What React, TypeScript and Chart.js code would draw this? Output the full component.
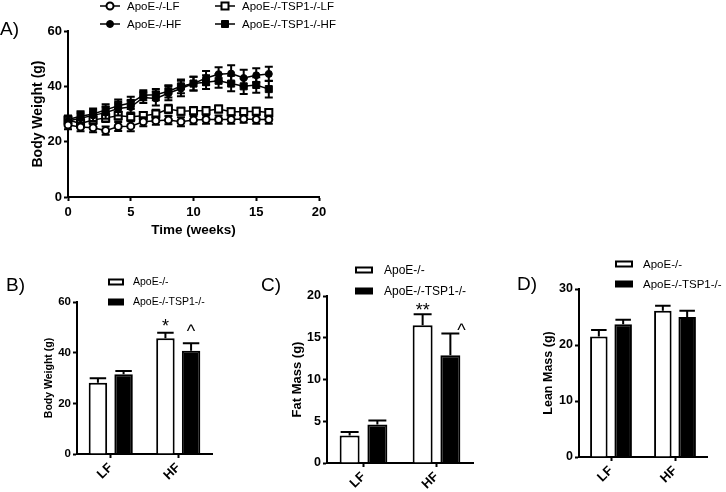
import React, { useEffect, useRef } from "react";
import { Chart, registerables } from "chart.js";

Chart.register(...registerables);

const FONT = "'Liberation Sans', Arial, Helvetica, sans-serif";

// ---------- Panel A: body weight over time ----------
const weeks = [0, 1, 2, 3, 4, 5, 6, 7, 8, 9, 10, 11, 12, 13, 14, 15, 16];
const seriesA = ["ApoE-/-LF", "ApoE-/-HF", "ApoE-/-TSP1-/-LF", "ApoE-/-TSP1-/-HF"];
const apoeLF = [26.0, 25.3, 25.0, 24.0, 25.5, 25.6, 27.2, 27.6, 27.8, 27.2, 27.8, 28.0, 28.0, 28.0, 28.2, 28.0, 28.0];
const apoeLFErr = [1.5, 1.5, 1.6, 1.5, 1.6, 1.8, 1.6, 1.5, 1.5, 1.6, 1.5, 1.5, 1.5, 1.5, 1.4, 1.5, 1.5];
const apoeHF = [27.5, 28.5, 29.5, 30.5, 32.0, 32.5, 36.0, 35.6, 37.5, 39.2, 41.0, 43.0, 44.4, 44.6, 43.0, 44.0, 44.5];
const apoeHFErr = [1.5, 2.0, 2.0, 2.2, 2.5, 2.5, 2.0, 2.5, 2.5, 2.8, 2.5, 2.5, 2.5, 3.0, 3.0, 2.5, 2.6];
const tspLF = [27.8, 26.6, 27.8, 28.6, 29.4, 29.0, 29.4, 30.0, 31.8, 31.0, 31.2, 31.2, 31.8, 30.8, 30.8, 31.0, 30.5];
const tspLFErr = [1.2, 1.5, 1.5, 1.5, 1.5, 1.5, 1.3, 1.5, 1.5, 1.3, 1.3, 1.3, 1.3, 1.3, 1.3, 1.3, 1.3];
const tspHF = [28.0, 29.2, 30.0, 31.5, 33.0, 34.0, 36.8, 37.0, 38.2, 40.0, 41.0, 41.5, 42.0, 41.0, 40.0, 40.5, 39.0];
const tspHFErr = [1.5, 1.8, 2.0, 2.0, 2.2, 2.2, 1.8, 2.0, 2.2, 2.5, 2.5, 2.5, 2.5, 2.8, 2.8, 2.8, 3.0];
const weekMin = 0, weekMax = 20, weekStep = 5;
const bwMin = 0, bwMax = 60, bwStep = 20;

// ---------- Panels B–D: grouped bars ----------
const categories = ["LF", "HF"];
const groups = ["ApoE-/-", "ApoE-/-TSP1-/-"];

const bwApoe = [28.1, 45.7];
const bwApoeErr = [1.8, 2.2];
const bwTsp = [31.5, 40.8];
const bwTspErr = [1.3, 2.9];
const bwApoeMarks = ["", "*"];
const bwTspMarks = ["", "^"];

const fatApoe = [3.3, 16.5];
const fatApoeErr = [0.4, 1.3];
const fatTsp = [4.6, 12.9];
const fatTspErr = [0.5, 2.6];
const fatApoeMarks = ["", "**"];
const fatTspMarks = ["", "^"];
const fatMin = 0, fatMax = 20, fatStep = 5;

const leanApoe = [21.5, 26.1];
const leanApoeErr = [1.2, 0.9];
const leanTsp = [23.7, 25.0];
const leanTspErr = [0.8, 1.1];
const leanMin = 0, leanMax = 30, leanStep = 10;

// ---------- helpers ----------
function axisBase(size: number, extraTicks: any = {}) {
  return {
    border: { display: true, color: "#000", width: 2 },
    grid: {
      display: true,
      drawOnChartArea: false,
      drawTicks: true,
      tickLength: 4,
      tickWidth: 2,
      tickColor: "#000",
      offset: false,
    },
    ticks: {
      color: "#000",
      font: { family: FONT, size, weight: "bold" },
      padding: 2,
      ...extraTicks,
    },
  };
}

function yTitle(text: string, size: number, center: number) {
  return {
    display: true,
    text,
    color: "#000",
    font: { family: FONT, size, weight: "bold" },
    padding: { top: center - (size * 1.2) / 2, bottom: 0 },
  };
}

const lineErrorPlugin = {
  id: "lineErr",
  beforeDatasetDraw(chart: any, args: any) {
    const ds = chart.data.datasets[args.index];
    const errs = ds.errors;
    if (!errs) return;
    const y = chart.scales.y;
    const ctx = chart.ctx;
    ctx.save();
    ctx.strokeStyle = "#000";
    ctx.lineWidth = 2;
    args.meta.data.forEach((pt: any, i: number) => {
      const v = ds.data[i].y;
      const e = errs[i];
      const top = y.getPixelForValue(v + e);
      const bot = y.getPixelForValue(v - e);
      const x = pt.x;
      const cap = 4;
      ctx.beginPath();
      ctx.moveTo(x, top);
      ctx.lineTo(x, bot);
      ctx.moveTo(x - cap, top);
      ctx.lineTo(x + cap, top);
      ctx.moveTo(x - cap, bot);
      ctx.lineTo(x + cap, bot);
      ctx.stroke();
    });
    ctx.restore();
  },
};

function barErrorPlugin(markStyle: any) {
  return {
    id: "barErr",
    afterDatasetsDraw(chart: any) {
      const ctx = chart.ctx;
      const y = chart.scales.y;
      chart.data.datasets.forEach((ds: any, di: number) => {
        const meta = chart.getDatasetMeta(di);
        meta.data.forEach((bar: any, i: number) => {
          const v = ds.data[i];
          const e = ds.errors[i];
          const top = y.getPixelForValue(v + e);
          const base = y.getPixelForValue(v);
          const half = bar.width / 2 - 1;
          ctx.save();
          ctx.strokeStyle = "#000";
          ctx.lineWidth = 2;
          ctx.beginPath();
          ctx.moveTo(bar.x, base);
          ctx.lineTo(bar.x, top);
          ctx.moveTo(bar.x - half, top);
          ctx.lineTo(bar.x + half, top);
          ctx.stroke();
          const mark = ds.marks ? ds.marks[i] : "";
          if (mark) {
            const st = markStyle[di];
            ctx.fillStyle = "#000";
            ctx.font = `${st.size}px ${FONT}`;
            ctx.textAlign = "center";
            ctx.textBaseline = "alphabetic";
            const m = ctx.measureText(mark);
            const asc = m.actualBoundingBoxAscent;
            const desc = m.actualBoundingBoxDescent;
            const centerOffset = (asc - desc) / 2;
            ctx.fillText(mark, bar.x + (st.dx || 0), top - st.gap + centerOffset);
          }
          ctx.restore();
        });
      });
    },
  };
}

function decoPlugin(d: any) {
  return {
    id: "deco",
    afterDraw(chart: any) {
      const ctx = chart.ctx;
      ctx.save();
      ctx.fillStyle = "#000";
      ctx.textAlign = "left";
      ctx.textBaseline = "middle";
      ctx.font = `${d.labelSize}px ${FONT}`;
      ctx.fillText(d.label, d.labelX, d.labelY);
      ctx.font = `${d.legendSize}px ${FONT}`;
      d.items.forEach((it: any) => {
        ctx.strokeStyle = "#000";
        ctx.fillStyle = "#000";
        if (it.kind === "line") {
          ctx.lineWidth = 1.5;
          ctx.beginPath();
          ctx.moveTo(it.x, it.y);
          ctx.lineTo(it.x + 20, it.y);
          ctx.stroke();
          const cx = it.x + 10;
          ctx.lineWidth = it.filled ? 1 : 2;
          ctx.fillStyle = it.filled ? "#000" : "#fff";
          ctx.beginPath();
          if (it.style === "circle") ctx.arc(cx, it.y, 3.5, 0, Math.PI * 2);
          else ctx.rect(cx - 3.5, it.y - 3.5, 7, 7);
          ctx.fill();
          ctx.stroke();
          ctx.fillStyle = "#000";
          ctx.fillText(it.text, it.x + 27, it.y + 0.5);
        } else {
          ctx.lineWidth = 2;
          if (it.filled) {
            ctx.fillRect(it.x, it.y - it.h / 2, it.w, it.h);
          } else {
            ctx.fillStyle = "#fff";
            ctx.fillRect(it.x, it.y - it.h / 2, it.w, it.h);
            ctx.strokeRect(it.x + 1, it.y - it.h / 2 + 1, it.w - 2, it.h - 2);
          }
          ctx.fillStyle = "#000";
          ctx.fillText(it.text, it.textX, it.y + 0.5);
        }
      });
      ctx.restore();
    },
  };
}

// ---------- Panel A config ----------
function makeA() {
  const mk = (label: string, vals: number[], errs: number[], style: string, filled: boolean) => ({
    label,
    data: weeks.map((w, i) => ({ x: w, y: vals[i] })),
    errors: errs,
    borderColor: "#000",
    borderWidth: 1.5,
    pointStyle: style,
    pointRadius: style === "rect" ? 5 : 3.5,
    pointBackgroundColor: filled ? "#000" : "#fff",
    pointBorderColor: "#000",
    pointBorderWidth: filled ? 1 : 2,
    fill: false,
    tension: 0,
    clip: false,
  });
  const datasets = [
    mk(seriesA[0], apoeLF, apoeLFErr, "circle", false),
    mk(seriesA[1], apoeHF, apoeHFErr, "circle", true),
    mk(seriesA[2], tspLF, tspLFErr, "rect", false),
    mk(seriesA[3], tspHF, tspHFErr, "rect", true),
  ];
  return {
    type: "line",
    data: { datasets },
    options: {
      animation: false,
      responsive: false,
      events: [],
      layout: { padding: { left: 0, top: 31, right: 21, bottom: 0 } },
      plugins: { legend: { display: false }, tooltip: { enabled: false } },
      scales: {
        x: {
          type: "linear",
          min: weekMin,
          max: weekMax,
          ...axisBase(13, { stepSize: weekStep, padding: 4 }),
          title: {
            display: true,
            text: "Time (weeks)",
            color: "#000",
            font: { family: FONT, size: 13.5, weight: "bold" },
            padding: { top: 0, bottom: 2 },
          },
          afterFit: (s: any) => {
            s.height = 43;
          },
        },
        y: {
          type: "linear",
          min: bwMin,
          max: bwMax,
          ...axisBase(13, { stepSize: bwStep }),
          title: yTitle("Body Weight (g)", 14, 37.7),
          afterFit: (s: any) => {
            s.width = 68;
          },
        },
      },
    },
    plugins: [
      lineErrorPlugin,
      decoPlugin({
        label: "A)",
        labelX: 0,
        labelY: 30,
        labelSize: 19,
        legendSize: 11.5,
        items: [
          { kind: "line", style: "circle", filled: false, x: 100, y: 6, text: seriesA[0] },
          { kind: "line", style: "rect", filled: false, x: 215, y: 6, text: seriesA[2] },
          { kind: "line", style: "circle", filled: true, x: 100, y: 24, text: seriesA[1] },
          { kind: "line", style: "rect", filled: true, x: 215, y: 24, text: seriesA[3] },
        ],
      }),
    ],
  };
}

// ---------- Bar panels ----------
function makeBar(p: any) {
  return {
    type: "bar",
    data: {
      labels: categories,
      datasets: [
        {
          label: groups[0],
          data: p.a,
          errors: p.aErr,
          marks: p.aMarks,
          backgroundColor: "#fff",
          borderColor: "#000",
          borderWidth: 2,
          categoryPercentage: 0.76,
          barPercentage: 0.72,
        },
        {
          label: groups[1],
          data: p.b,
          errors: p.bErr,
          marks: p.bMarks,
          backgroundColor: "#000",
          borderColor: "#000",
          borderWidth: 2,
          categoryPercentage: 0.76,
          barPercentage: 0.72,
        },
      ],
    },
    options: {
      animation: false,
      responsive: false,
      events: [],
      layout: { padding: { left: 0, top: p.top, right: p.right, bottom: 0 } },
      plugins: { legend: { display: false }, tooltip: { enabled: false } },
      scales: {
        x: {
          type: "category",
          offset: true,
          ...axisBase(13, { minRotation: 45, maxRotation: 45, padding: 2 }),
          afterFit: (s: any) => {
            s.height = p.xh;
          },
        },
        y: {
          type: "linear",
          min: p.min,
          max: p.max,
          ...axisBase(p.tickSize, { stepSize: p.step }),
          title: yTitle(p.title, p.titleSize, p.titleCenter),
          afterFit: (s: any) => {
            s.width = p.yw;
          },
        },
      },
    },
    plugins: [
      barErrorPlugin(p.markStyle),
      decoPlugin({
        label: p.label,
        labelX: p.labelX,
        labelY: p.labelY,
        labelSize: 19,
        legendSize: p.legendSize,
        items: [
          { kind: "box", filled: false, x: p.legX, y: p.legY[0], w: p.legW, h: 7, textX: p.legTextX, text: groups[0] },
          { kind: "box", filled: true, x: p.legX, y: p.legY[1], w: p.legW, h: 7, textX: p.legTextX, text: groups[1] },
        ],
      }),
    ],
  };
}

function makeB() {
  return makeBar({
    a: bwApoe, aErr: bwApoeErr, aMarks: bwApoeMarks,
    b: bwTsp, bErr: bwTspErr, bMarks: bwTspMarks,
    min: bwMin, max: bwMax, step: bwStep,
    title: "Body Weight (g)", titleSize: 10.5, titleCenter: 49,
    tickSize: 11.5, top: 52, right: 28, xh: 38, yw: 77,
    label: "B)", labelX: 6, labelY: 35.5,
    legendSize: 10.5, legX: 108, legW: 16, legY: [32, 52], legTextX: 133,
    markStyle: [{ size: 18, gap: 10, dx: 0 }, { size: 18, gap: 16, dx: 0 }],
  });
}

function makeC() {
  return makeBar({
    a: fatApoe, aErr: fatApoeErr, aMarks: fatApoeMarks,
    b: fatTsp, bErr: fatTspErr, bMarks: fatTspMarks,
    min: fatMin, max: fatMax, step: fatStep,
    title: "Fat Mass (g)", titleSize: 13, titleCenter: 57.5,
    tickSize: 12.5, top: 46, right: 10, xh: 29, yw: 87,
    label: "C)", labelX: 21, labelY: 36,
    legendSize: 12, legX: 115, legW: 18, legY: [20, 41], legTextX: 144,
    markStyle: [{ size: 18, gap: 8, dx: 0 }, { size: 18, gap: 7, dx: 11 }],
  });
}

function makeD() {
  return makeBar({
    a: leanApoe, aErr: leanApoeErr, aMarks: ["", ""],
    b: leanTsp, bErr: leanTspErr, bMarks: ["", ""],
    min: leanMin, max: leanMax, step: leanStep,
    title: "Lean Mass (g)", titleSize: 12.5, titleCenter: 65.3,
    tickSize: 12.5, top: 39, right: 19, xh: 35, yw: 96,
    label: "D)", labelX: 34, labelY: 34.5,
    legendSize: 11.5, legX: 132, legW: 18, legY: [14, 34], legTextX: 160,
    markStyle: [{ size: 18, gap: 10, dx: 0 }, { size: 18, gap: 10, dx: 0 }],
  });
}

function ChartCanvas(props: { make: () => any; left: number; top: number; width: number; height: number }) {
  const ref = useRef<HTMLCanvasElement>(null);
  useEffect(() => {
    const chart = new Chart(ref.current as HTMLCanvasElement, props.make());
    return () => chart.destroy();
  }, []);
  return (
    <canvas
      ref={ref}
      width={props.width}
      height={props.height}
      style={{ position: "absolute", left: props.left, top: props.top, width: props.width, height: props.height }}
    />
  );
}

export default function App() {
  return (
    <div style={{ position: "absolute", left: 0, top: 0, width: 726, height: 492, background: "#fff", overflow: "hidden" }}>
      <ChartCanvas make={makeA} left={0} top={0} width={340} height={240} />
      <ChartCanvas make={makeB} left={0} top={250} width={240} height={242} />
      <ChartCanvas make={makeC} left={240} top={250} width={243} height={242} />
      <ChartCanvas make={makeD} left={483} top={250} width={243} height={242} />
    </div>
  );
}
